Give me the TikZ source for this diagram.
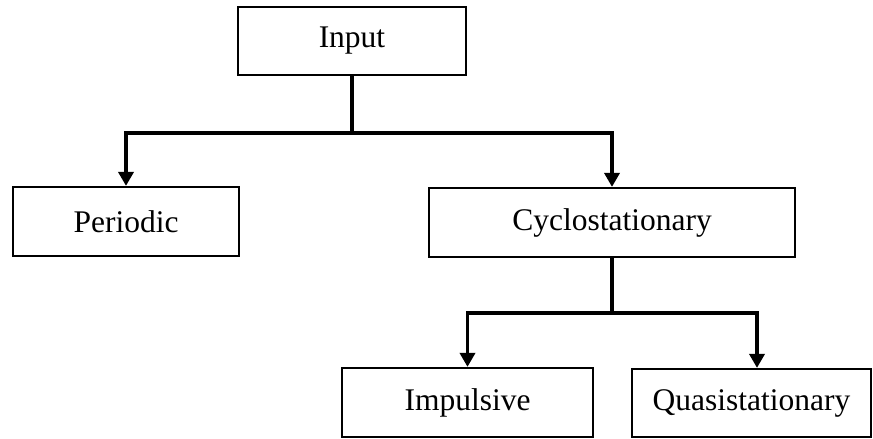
\documentclass[tikz,border=0pt]{standalone}
\usepackage{fontspec}
\setmainfont{Liberation Serif}
\usetikzlibrary{arrows.meta}
\begin{document}
\begin{tikzpicture}[x=1pt,y=-1pt,
  box/.style={draw=black,line width=2.2pt,fill=white,inner sep=0pt,
    font=\fontsize{31.5}{36}\selectfont,anchor=center},
  conn/.style={draw=black,line width=3.6pt,line join=miter},
  arr/.style={conn,-{Triangle[width=15pt,length=14pt]}}]
\useasboundingbox (0,0) rectangle (873,439);
\node[box,minimum width=228pt,minimum height=68pt] (in) at (352,41) {Input};
\node[box,minimum width=226pt,minimum height=69pt] (per) at (126,221.5) {Periodic};
\node[box,minimum width=366pt,minimum height=69pt] (cyc) at (612,222.5) {Cyclostationary};
\node[box,minimum width=251pt,minimum height=69pt] (imp) at (467.5,402.5) {Impulsive};
\node[box,minimum width=239pt,minimum height=68pt] (qua) at (751.5,403) {Quasistationary};
\coordinate (j1) at (352,133);
\coordinate (j2) at (612,313);
\draw[conn] (in.south) -- (j1);
\draw[arr] (j1) -| (per.north);
\draw[arr] (j1) -| (cyc.north);
\draw[conn] (cyc.south) -- (j2);
\draw[arr] (j2) -| (imp.north);
\draw[arr] (j2) -| ([xshift=5.5pt]qua.north);
\end{tikzpicture}
\end{document}
